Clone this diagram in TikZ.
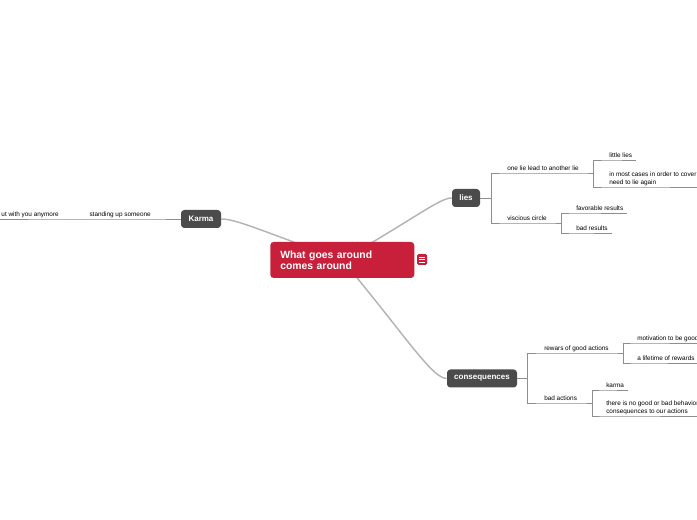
\documentclass[tikz,border=0pt]{standalone}
\usepackage{fontspec}
\setmainfont{Liberation Sans}
\usetikzlibrary{positioning,backgrounds}

\definecolor{mapred}{HTML}{C8203A}
\definecolor{topicgray}{HTML}{4B4B4B}
\definecolor{branchgray}{HTML}{B4B4B4}
\definecolor{twiggray}{HTML}{8E8E8E}

\tikzset{
  central/.style={fill=mapred, rounded corners=2.5pt, text=white, align=left,
    font=\fontsize{7.8}{8.25}\selectfont\bfseries, text width=93pt,
    inner xsep=7.5pt, minimum height=27pt},
  topic/.style={fill=topicgray, rounded corners=2.5pt, text=white,
    font=\fontsize{6}{7}\selectfont\bfseries, minimum height=13.5pt, inner sep=0pt},
  leaf/.style={font=\fontsize{4.8}{5.4}\selectfont, inner xsep=0pt, inner ysep=2pt,
    align=left, anchor=south west, text depth=0pt},
  branch/.style={draw=branchgray, line width=1.1pt},
  twig/.style={draw=twiggray, line width=0.45pt},
}

\begin{document}
\begin{tikzpicture}[x=0.75pt,y=-0.75pt]
\useasboundingbox (0,0) rectangle (697,520);

\node[central, anchor=west] (root) at (270,260) {What goes around\\comes around};
\node[fill=mapred, rounded corners=1pt, minimum width=7.5pt, minimum height=8pt, inner sep=0pt] (notes) at (422,259.5) {};
\foreach \dy in {-1.8,0,1.8}
  \draw[white, line width=0.45pt] ([xshift=-2pt,yshift=\dy pt]notes.center) -- ++(4pt,0);

\node[topic, minimum width=30pt] (karma) at (201,219) {Karma};
\node[topic, minimum width=21pt] (lies) at (466,198) {lies};
\node[topic, minimum width=52.5pt] (conseq) at (482,378.5) {consequences};

\begin{scope}[on background layer]
\draw[branch] (root.center) .. controls (255,228) and (235,219) .. (karma.east);
\draw[branch] (root.center) .. controls (420,215) and (440,198) .. (lies.west);
\draw[branch] (root.center) .. controls (405,335) and (432,378.5) .. (conseq.west);
\end{scope}

\node[leaf, anchor=south east] (standing) at (151,219) {standing up someone};
\node[leaf, anchor=south east] (anymore) at (59,219) {ut with you anymore};
\draw[twig] (karma.west) -- (standing.south east) -- ([xshift=-3pt]standing.south west)
  -- (anymore.south east) -- ([xshift=-3pt]anymore.south west);

\coordinate (liesfork) at (491,198);
\node[leaf] (onelie) at (507,173) {one lie lead to another lie};
\node[leaf] (littlelies) at (609,160) {little lies};
\node[leaf] (cover) at (609,187) {in most cases in order to cover one lie you\\need to lie again};
\node[leaf] (viscious) at (507,223) {viscious circle};
\node[leaf] (favorable) at (576,213) {favorable results};
\node[leaf] (badres) at (576,233) {bad results};
\draw[twig] (lies.east) -- (liesfork);
\draw[twig] (liesfork) |- (onelie.south west) -- ([xshift=3pt]onelie.south east) -- ++(8pt,0) coordinate (oneliefork);
\draw[twig] (liesfork) |- (viscious.south west) -- ([xshift=3pt]viscious.south east) -- ++(7.5pt,0) coordinate (visciousfork);
\draw[twig] (oneliefork) |- (littlelies.south west) -- ([xshift=3pt]littlelies.south east);
\draw[twig] (oneliefork) |- (cover.south west) -- ([xshift=3pt]cover.south east);
\draw[twig] (visciousfork) |- (favorable.south west) -- ([xshift=3pt]favorable.south east);
\draw[twig] (visciousfork) |- (badres.south west) -- ([xshift=3pt]badres.south east);

\coordinate (consfork) at (527,378.5);
\node[leaf] (rewars) at (544,353) {rewars of good actions};
\node[leaf] (motivation) at (637,343) {motivation to be good};
\node[leaf] (lifetime) at (637,363) {a lifetime of rewards};
\node[leaf] (badact) at (544,403) {bad actions};
\node[leaf] (karmaleaf) at (606,390) {karma};
\node[leaf] (nogood) at (606,416) {there is no good or bad behavior, just\\consequences to our actions};
\draw[twig] (conseq.east) -- (consfork);
\draw[twig] (consfork) |- (rewars.south west) -- ([xshift=3pt]rewars.south east) -- ++(7.5pt,0) coordinate (rewarsfork);
\draw[twig] (consfork) |- (badact.south west) -- ([xshift=3pt]badact.south east) -- ++(8pt,0) coordinate (badactfork);
\draw[twig] (rewarsfork) |- (motivation.south west) -- ([xshift=3pt]motivation.south east);
\draw[twig] (rewarsfork) |- (lifetime.south west) -- ([xshift=3pt]lifetime.south east);
\draw[twig] (badactfork) |- (karmaleaf.south west) -- ([xshift=3pt]karmaleaf.south east);
\draw[twig] (badactfork) |- (nogood.south west) -- ([xshift=3pt]nogood.south east);
\end{tikzpicture}
\end{document}
